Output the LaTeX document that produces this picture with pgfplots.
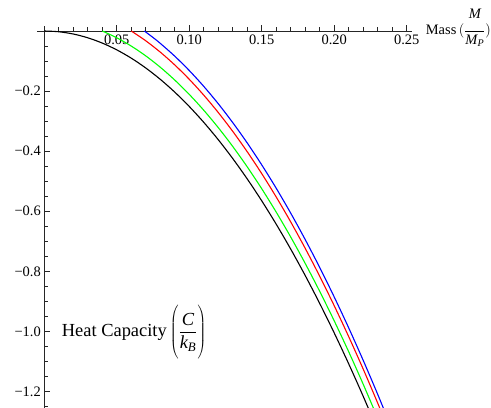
\documentclass[border=0pt]{standalone}
\usepackage{pgfplots}
\pgfplotsset{compat=1.18}
\usepackage{fontspec}
\setmainfont{Liberation Serif}

\begin{document}
\begin{tikzpicture}
\begin{axis}[
  x=1450bp, y=300.5bp,
  xmin=-0.005, xmax=0.2536, ymin=-1.253, ymax=0.017,
  axis lines=middle,
  axis line style={black!85, line width=0.8bp, -},
  tick align=inside,
  major tick length=6bp, minor tick length=3.8bp,
  tick style={black!85, line width=0.7bp},
  xtick={0.05,0.10,0.15,0.20,0.25},
  xticklabels={0.05,0.10,0.15,0.20,0.25},
  minor xtick={0,0.01,...,0.25},
  ytick={-1.2,-1.0,-0.8,-0.6,-0.4,-0.2},
  yticklabels={−1.2,−1.0,−0.8,−0.6,−0.4,−0.2},
  minor ytick={-1.25,-1.2,...,0},
  ticklabel style={font=\fontsize{14.5}{16}\selectfont},
  clip=true,
  every axis plot/.append style={line width=1.1bp, smooth, no marks},
]
\coordinate (O) at (axis cs:0,0);
\addplot[black] coordinates {
(0,0) (0.01,-0.002513) (0.02,-0.010053) (0.03,-0.022619) (0.04,-0.040212)
(0.05,-0.062832) (0.06,-0.090478) (0.07,-0.123150) (0.08,-0.160849)
(0.09,-0.203575) (0.10,-0.251327) (0.11,-0.304106) (0.12,-0.361911)
(0.13,-0.424743) (0.14,-0.492602) (0.15,-0.565487) (0.16,-0.643398)
(0.17,-0.726336) (0.18,-0.814301) (0.19,-0.907292) (0.20,-1.005310)
(0.21,-1.108354) (0.22,-1.216425) (0.23,-1.329522)};
\addplot[green] coordinates {
(0.04,0) (0.05,-0.022619) (0.06,-0.050265) (0.07,-0.082938) (0.08,-0.120637)
(0.09,-0.163363) (0.10,-0.211115) (0.11,-0.263894) (0.12,-0.321699)
(0.13,-0.384531) (0.14,-0.452389) (0.15,-0.525274) (0.16,-0.603186)
(0.17,-0.686124) (0.18,-0.774088) (0.19,-0.867079) (0.20,-0.965097)
(0.21,-1.068141) (0.22,-1.176212) (0.23,-1.289309)};
\addplot[red] coordinates {
(0.06,0) (0.07,-0.032673) (0.08,-0.070372) (0.09,-0.113097) (0.10,-0.160850)
(0.11,-0.213628) (0.12,-0.271433) (0.13,-0.334265) (0.14,-0.402124)
(0.15,-0.475008) (0.16,-0.552920) (0.17,-0.635858) (0.18,-0.723823)
(0.19,-0.816814) (0.20,-0.914832) (0.21,-1.017876) (0.22,-1.125946)
(0.23,-1.239043) (0.24,-1.357167)};
\addplot[blue] coordinates {
(0.069,0) (0.075,-0.021715) (0.08,-0.041193) (0.09,-0.083918) (0.10,-0.131670)
(0.11,-0.184449) (0.12,-0.242254) (0.13,-0.305086) (0.14,-0.372944)
(0.15,-0.445829) (0.16,-0.523741) (0.17,-0.606679) (0.18,-0.694643)
(0.19,-0.787634) (0.20,-0.885652) (0.21,-0.988696) (0.22,-1.096767)
(0.23,-1.209864) (0.24,-1.327988)};
\end{axis}
\node[anchor=base west, inner sep=0pt, font=\fontsize{14.5}{16}\selectfont]
  at ([shift={(381.4bp,-4bp)}]O)
  {Mass\,$(\displaystyle\frac{\mbox{\itshape M}\rule[-12bp]{0pt}{12bp}}{\mbox{\itshape M\textsubscript{P}}})$};
\node[anchor=base west, inner sep=0pt, font=\fontsize{18.5}{21}\selectfont]
  at ([shift={(17.4bp,-305.7bp)}]O)
  {Heat Capacity\,$\displaystyle\left(\rule[-22bp]{0pt}{54bp}\frac{\mbox{\itshape C}}{\mbox{\itshape k\textsubscript{B}}}\right)$};
\pgfresetboundingbox
\path ([shift={(-44.3bp,-377bp)}]O) rectangle ([shift={(446.7bp,31bp)}]O);
\end{tikzpicture}
\end{document}
